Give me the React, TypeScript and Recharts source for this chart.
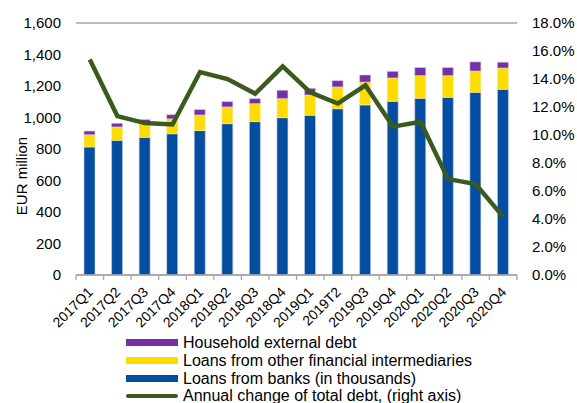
import React from 'react'
import { ComposedChart, Bar, Line, XAxis, YAxis, CartesianGrid } from 'recharts'

// ─── Data ──────────────────────────────────────────────
const quarters = [
  '2017Q1', '2017Q2', '2017Q3', '2017Q4',
  '2018Q1', '2018Q2', '2018Q3', '2018Q4',
  '2019Q1', '2019T2', '2019Q3', '2019Q4',
  '2020Q1', '2020Q2', '2020Q3', '2020Q4',
]
const bankLoans = [813, 855, 874, 897, 917, 961, 974, 999, 1014, 1056, 1080, 1103, 1122, 1128, 1160, 1179]
const otherIntermediaries = [78, 85, 88, 94, 99, 106, 114, 121, 129, 138, 145, 148, 144, 138, 135, 135]
const externalDebt = [23, 23, 25, 27, 34, 34, 32, 53, 42, 40, 45, 42, 51, 51, 58, 37]
const annualChange = [15.4, 11.35, 10.85, 10.75, 14.5, 14.0, 12.95, 14.9, 13.05, 12.25, 13.55, 10.6, 10.95, 6.85, 6.5, 4.15]

const leftTicks = [0, 200, 400, 600, 800, 1000, 1200, 1400, 1600]
const rightTicks = [0, 2, 4, 6, 8, 10, 12, 14, 16, 18]

const data = quarters.map((q, i) => ({
  quarter: q,
  banks: bankLoans[i],
  other: otherIntermediaries[i],
  external: externalDebt[i],
  change: annualChange[i],
}))

const FONT = '"Liberation Sans", Arial, sans-serif'
const GRID = '#a6a6a6'
const BLUE = '#044ea1'
const YELLOW = '#ffdc00'
const PURPLE = '#7232a3'
const GREEN = '#3b5a1e'

// legend order as in the original
const legendItems = [
  { label: 'Household external debt', color: PURPLE, kind: 'bar' },
  { label: 'Loans from other financial intermediaries', color: YELLOW, kind: 'bar' },
  { label: 'Loans from banks (in thousands)', color: BLUE, kind: 'bar' },
  { label: 'Annual change of total debt, (right axis)', color: GREEN, kind: 'line' },
]

const STEP = 441 / quarters.length

function QuarterTick(props: any) {
  const { x, y, payload, index } = props
  return (
    <g>
      <line x1={x - STEP / 2} x2={x - STEP / 2} y1={y} y2={y + 5} stroke={GRID} strokeWidth={1.3} />
      {index === quarters.length - 1 && (
        <line x1={x + STEP / 2} x2={x + STEP / 2} y1={y} y2={y + 5} stroke={GRID} strokeWidth={1.3} />
      )}
      <text
        x={x + 4}
        y={y + 18}
        transform={`rotate(-45, ${x + 4}, ${y + 18})`}
        textAnchor="end"
        fontSize={14}
        fontFamily={FONT}
        fill="#000"
      >
        {payload.value}
      </text>
    </g>
  )
}

export default function App() {
  return (
    <div style={{ position: 'absolute', left: 0, top: 0, width: 577, height: 403, overflow: 'hidden', background: '#fff', fontFamily: FONT }}>
      {/* title, mostly cut off at the top edge like the source */}
      <div style={{ position: 'absolute', left: 30, top: -21, fontSize: 24, color: '#5b9bd5', whiteSpace: 'nowrap', lineHeight: '24px' }}>
        Chart 1: Household debt
      </div>

      <div style={{ position: 'absolute', left: 0, top: 0 }}>
        <ComposedChart
          width={577}
          height={340}
          data={data}
          margin={{ top: 23, right: 0, bottom: 0, left: 0 }}
          barSize={11}
        >
          <CartesianGrid vertical={false} stroke={GRID} strokeWidth={1.3} />
          <XAxis
            dataKey="quarter"
            height={65}
            interval={0}
            tickSize={0}
            tickMargin={0}
            tickLine={false}
            axisLine={{ stroke: GRID, strokeWidth: 1.3 }}
            tick={<QuarterTick />}
          />
          <YAxis
            yAxisId="left"
            width={76}
            domain={[0, 1600]}
            ticks={leftTicks}
            interval={0}
            axisLine={false}
            tickLine={false}
            tickSize={0}
            tickMargin={15}
            tick={{ fontSize: 15, fill: '#000', fontFamily: FONT }}
            tickFormatter={(v: number) => v.toLocaleString('en-US')}
            label={{
              content: () => (
                <text
                  transform="translate(23, 176) rotate(-90)"
                  textAnchor="middle"
                  dominantBaseline="middle"
                  fontSize={15}
                  fontFamily={FONT}
                  fill="#000"
                >
                  EUR million
                </text>
              ),
            }}
          />
          <YAxis
            yAxisId="right"
            orientation="right"
            width={60}
            domain={[0, 18]}
            ticks={rightTicks}
            interval={0}
            axisLine={false}
            tickLine={false}
            tickSize={0}
            tickMargin={15}
            tick={{ fontSize: 15, fill: '#000', fontFamily: FONT }}
            tickFormatter={(v: number) => `${v.toFixed(1)}%`}
          />
          <Bar yAxisId="left" dataKey="banks" stackId="debt" fill={BLUE} stroke="#c9d4ea" strokeWidth={0.6} isAnimationActive={false} />
          <Bar yAxisId="left" dataKey="other" stackId="debt" fill={YELLOW} stroke="#f3eeb0" strokeWidth={0.6} isAnimationActive={false} />
          <Bar yAxisId="left" dataKey="external" stackId="debt" fill={PURPLE} stroke="#d8c6e6" strokeWidth={0.6} isAnimationActive={false} />
          <Line
            yAxisId="right"
            type="linear"
            dataKey="change"
            stroke={GREEN}
            strokeWidth={4.5}
            dot={false}
            activeDot={false}
            isAnimationActive={false}
          />
        </ComposedChart>
      </div>

      {/* legend */}
      <div style={{ position: 'absolute', left: 126, top: 334 }}>
        {legendItems.map((item) => (
          <div key={item.label} style={{ display: 'flex', alignItems: 'center', height: 17.7 }}>
            <div
              style={{
                width: 52,
                height: item.kind === 'bar' ? 7 : 4.5,
                background: item.color,
                borderRadius: item.kind === 'line' ? 2 : 0,
                marginRight: 5,
              }}
            />
            <span style={{ fontSize: 16, lineHeight: '17px', color: '#000', whiteSpace: 'nowrap' }}>{item.label}</span>
          </div>
        ))}
      </div>
    </div>
  )
}
